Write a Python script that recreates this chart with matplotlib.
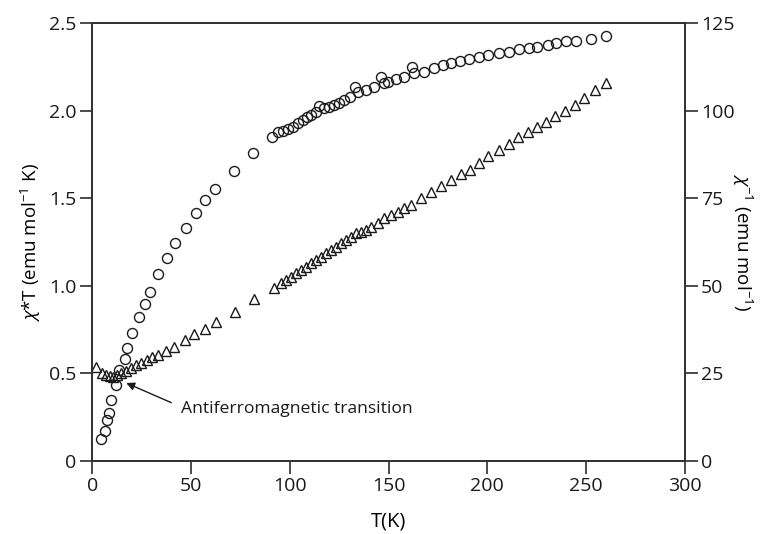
import matplotlib
matplotlib.use("Agg")
import matplotlib.pyplot as plt

plt.rcParams['font.family'] = ['Open Sans', 'DejaVu Sans']
plt.rcParams['mathtext.fontset'] = 'custom'
plt.rcParams['mathtext.rm'] = 'Open Sans'
plt.rcParams['mathtext.it'] = 'Open Sans:italic'
plt.rcParams['mathtext.bf'] = 'Open Sans:bold'

# chi*T data (left axis)
T_chiT = [4.2, 6.6, 7.2, 8.6, 9.6, 12, 13.3, 16.3, 17.5, 20.2, 23.4, 26.5, 29, 33.5, 37.9,
          42, 47.5, 52.6, 57.2, 61.9, 71.5, 81.3, 91, 93.8, 96.4, 99, 101.5, 104, 106.6,
          108.7, 110.8, 113.3, 115, 117.5, 120, 122.6, 125, 127.6, 130.5, 133.1, 134.4,
          138.6, 142.8, 146.2, 147.8, 149.6, 153.8, 158, 161.7, 163, 168, 173, 177.4,
          181.6, 186.3, 190.8, 196, 200.4, 206, 211, 216, 221, 225.4, 230.5, 235, 239.7,
          244.8, 252.4, 260]
chiT = [0.124, 0.17, 0.234, 0.272, 0.348, 0.434, 0.52, 0.58, 0.643, 0.73, 0.82, 0.894,
        0.966, 1.07, 1.157, 1.244, 1.33, 1.415, 1.49, 1.55, 1.655, 1.756, 1.851, 1.875,
        1.884, 1.893, 1.908, 1.927, 1.946, 1.965, 1.975, 1.994, 2.026, 2.013, 2.022, 2.032,
        2.045, 2.058, 2.075, 2.137, 2.108, 2.118, 2.137, 2.19, 2.156, 2.165, 2.18, 2.193,
        2.25, 2.213, 2.222, 2.241, 2.26, 2.273, 2.284, 2.294, 2.304, 2.319, 2.327, 2.336,
        2.35, 2.356, 2.365, 2.374, 2.384, 2.399, 2.399, 2.409, 2.426]

# inverse susceptibility data (right axis)
T_inv = [2, 4.9, 7.1, 8.8, 10.4, 12.6, 14.7, 17.2, 19.7, 22.3, 24.8, 27.8, 30.3, 33.2,
         37.4, 41.6, 46.7, 51.7, 57.2, 62.4, 72.3, 82.1, 92.2, 95.6, 98.1, 100.7, 103.2,
         105.7, 108.2, 110.8, 113.3, 115.8, 118.4, 120.9, 123.4, 125.9, 128.5, 131, 133.5,
         136, 138.6, 141.1, 144.5, 147.8, 151.2, 154.6, 158, 161.3, 166.4, 171.5, 176.6,
         181.6, 186.6, 191.3, 196, 200.4, 206, 211, 215.3, 220.4, 225, 229.6, 234.2, 239.2,
         244.3, 249, 254.4, 260]
chi_inv = [26.7, 25.2, 24.5, 24.3, 24.1, 24.5, 25.0, 25.8, 26.5, 27.4, 28.1, 28.8, 29.6,
           30.3, 31.5, 32.6, 34.5, 36.2, 37.7, 39.8, 42.6, 46.1, 49.3, 50.7, 51.7, 52.6,
           53.6, 54.5, 55.5, 56.4, 57.4, 58.3, 59.3, 60.2, 61.2, 62.1, 63.1, 64.0, 65.0,
           65.4, 65.9, 66.9, 67.8, 69.3, 70.2, 71.1, 72.1, 73.1, 75, 76.9, 78.5, 80.2,
           81.9, 83, 85, 86.9, 88.8, 90.5, 92.6, 94, 95.2, 96.7, 98.5, 100, 101.6, 103.5,
           105.9, 107.8]

x_ticks = [0, 50, 100, 150, 200, 250, 300]
left_ticks = [0, 0.5, 1.0, 1.5, 2.0, 2.5]
left_labels = ['0', '0.5', '1.0', '1.5', '2.0', '2.5']
right_ticks = [0, 25, 50, 75, 100, 125]

annot_text = 'Antiferromagnetic transition'
arrow_tip = (17.2, 0.445)
arrow_tail = (40, 0.333)
text_pos = (45, 0.297)

fig = plt.figure(figsize=(7.6, 5.34), dpi=100)
ax = fig.add_axes([0.1215, 0.1367, 0.7795, 0.8203])
ax2 = ax.twinx()

ax.plot(T_chiT, chiT, linestyle='none', marker='o', markersize=7.2,
        markerfacecolor='none', markeredgecolor='#1a1a1a', markeredgewidth=1.0)
ax2.plot(T_inv, chi_inv, linestyle='none', marker='^', markersize=7.2,
         markerfacecolor='none', markeredgecolor='#1a1a1a', markeredgewidth=1.0)

ax.set_xlim(0, 300)
ax.set_ylim(0, 2.5)
ax2.set_ylim(0, 125)
ax.set_xticks(x_ticks)
ax.set_yticks(left_ticks)
ax.set_yticklabels(left_labels)
ax2.set_yticks(right_ticks)

for a in (ax, ax2):
    a.tick_params(direction='out', length=9, width=1.1, labelsize=14, colors='#1a1a1a', pad=2.5)
    for s in a.spines.values():
        s.set_linewidth(1.3)
        s.set_color('#333333')

ax.set_xlabel('T(K)', fontsize=14.5, labelpad=12)
ax.set_ylabel(r'$\chi$*T (emu mol$^{-1}$ K)', fontsize=13.5, labelpad=4)
ax2.set_ylabel(r'$\chi^{-1}$ (emu mol$^{-1}$)', fontsize=13.5, rotation=270, labelpad=14)

ax.annotate('', xy=arrow_tip, xytext=arrow_tail,
            arrowprops=dict(arrowstyle='-|>', color='#1a1a1a', lw=1.0,
                            mutation_scale=12, shrinkA=0, shrinkB=0))
ax.text(text_pos[0], text_pos[1], annot_text, fontsize=12.6, ha='left', va='center',
        color='#1a1a1a')

fig.savefig('out.png', dpi=100)
